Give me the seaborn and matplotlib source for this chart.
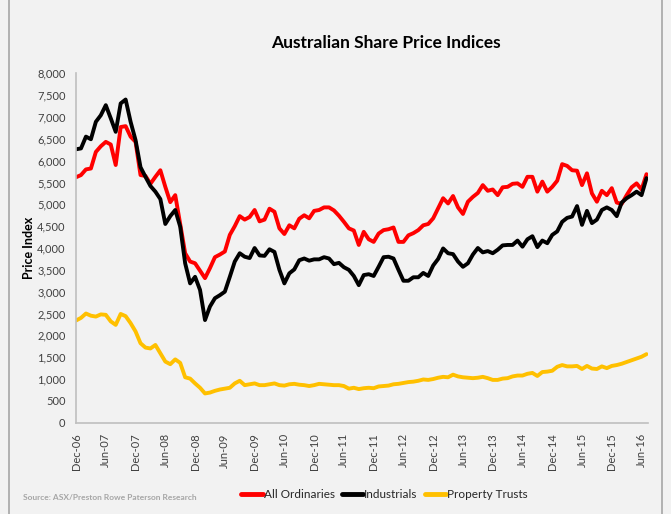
import numpy as np
import pandas as pd
import matplotlib
matplotlib.use('Agg')
import matplotlib.pyplot as plt
from matplotlib.ticker import FuncFormatter
from matplotlib.patches import Rectangle
import seaborn as sns

# monthly series, Dec-06 .. Jul-16
months = pd.date_range('2006-12-01', '2016-07-01', freq='MS')

all_ords = [5620, 5670, 5800, 5820, 6200, 6330, 6430, 6370, 5900, 6770,
            6790, 6550, 6430, 5670, 5650, 5470, 5630, 5780, 5400, 5050,
            5210, 4550, 3880, 3690, 3650, 3480, 3310, 3540, 3790, 3850,
            3920, 4300, 4500, 4730, 4650, 4710, 4870, 4610, 4650, 4900,
            4830, 4450, 4320, 4520, 4450, 4670, 4750, 4680, 4850, 4870,
            4930, 4930, 4860, 4740, 4600, 4450, 4400, 4070, 4370, 4200,
            4140, 4330, 4410, 4430, 4470, 4140, 4140, 4290, 4340, 4410,
            4520, 4550, 4680, 4910, 5140, 5020, 5190, 4930, 4780, 5060,
            5170, 5260, 5440, 5310, 5340, 5210, 5390, 5400, 5470, 5480,
            5400, 5630, 5630, 5290, 5520, 5290, 5400, 5540, 5920, 5880,
            5780, 5770, 5440, 5710, 5250, 5060, 5310, 5210, 5370, 5040,
            5010, 5210, 5390, 5480, 5340, 5690]

industrials = [6260, 6280, 6550, 6490, 6890, 7040, 7270, 6970, 6660, 7310,
               7400, 6890, 6470, 5850, 5630, 5420, 5290, 5120, 4550, 4730,
               4870, 4490, 3650, 3190, 3340, 3040, 2350, 2660, 2850, 2920,
               3000, 3340, 3690, 3880, 3800, 3770, 4000, 3830, 3820, 3970,
               3910, 3500, 3190, 3420, 3510, 3720, 3760, 3710, 3740, 3740,
               3790, 3760, 3630, 3660, 3560, 3500, 3360, 3150, 3380, 3400,
               3360, 3570, 3790, 3800, 3760, 3500, 3250, 3250, 3330, 3330,
               3430, 3360, 3600, 3750, 3990, 3880, 3860, 3690, 3570, 3650,
               3850, 4000, 3900, 3930, 3880, 3960, 4060, 4070, 4070, 4170,
               4030, 4200, 4270, 4020, 4170, 4110, 4300, 4380, 4600, 4690,
               4720, 4960, 4530, 4850, 4570, 4650, 4870, 4930, 4870, 4730,
               5040, 5140, 5210, 5290, 5210, 5600]

property_trusts = [2340, 2400, 2500, 2450, 2430, 2480, 2470, 2320, 2240, 2490,
                   2440, 2280, 2090, 1820, 1720, 1700, 1780, 1590, 1400, 1340,
                   1450, 1370, 1040, 1010, 900, 800, 670, 690, 730, 760,
                   780, 800, 900, 960, 860, 880, 900, 860, 860, 880,
                   900, 860, 850, 880, 890, 870, 860, 840, 860, 890,
                   880, 870, 860, 860, 840, 780, 800, 770, 790, 800,
                   790, 830, 840, 850, 880, 890, 910, 930, 940, 960,
                   990, 980, 1000, 1030, 1050, 1040, 1100, 1060, 1040, 1030,
                   1020, 1030, 1050, 1020, 980, 980, 1010, 1020, 1060, 1080,
                   1080, 1120, 1140, 1070, 1160, 1170, 1190, 1280, 1320, 1290,
                   1290, 1300, 1230, 1300, 1240, 1230, 1290, 1250, 1300, 1320,
                   1350, 1390, 1430, 1470, 1510, 1570]

series_names = ['All Ordinaries', 'Industrials', 'Property Trusts']
series_colors = ['#ff0000', '#000000', '#ffc000']

idx = np.arange(len(months))
df = pd.concat([
    pd.DataFrame({'m': idx, 'value': vals, 'series': name})
    for name, vals in zip(series_names, [all_ords, industrials, property_trusts])
])

sns.set_style('white')
plt.rcParams['font.family'] = ['Lato', 'DejaVu Sans']

bg = '#f2f2f2'
fig = plt.figure(figsize=(6.71, 5.14), dpi=100, facecolor=bg)
fig.patches.append(Rectangle((0.014, -0.01), 0.972, 1.02, transform=fig.transFigure,
                             fill=False, edgecolor='#a6a6a6', linewidth=1.2))
ax = fig.add_axes([0.1133, 0.1776, 0.8524, 0.6798], facecolor=bg)

sns.lineplot(data=df, x='m', y='value', hue='series', hue_order=series_names,
             palette=series_colors, linewidth=2.8, ax=ax, legend=True)

ax.set_xlim(0, 115.3)
ax.set_ylim(0, 8000)
ax.set_yticks(np.arange(0, 8001, 500))
ax.yaxis.set_major_formatter(FuncFormatter(lambda v, p: f'{int(v):,}'))
tick_pos = idx[::6]
ax.set_xticks(tick_pos)
ax.set_xticklabels([months[i].strftime('%b-%y') for i in tick_pos], rotation=90)

for s in ['top', 'right']:
    ax.spines[s].set_visible(False)
for s in ['left', 'bottom']:
    ax.spines[s].set_color('#bfbfbf')
    ax.spines[s].set_linewidth(1.2)
ax.tick_params(axis='both', colors='#bfbfbf', labelcolor='#404040',
               labelsize=8, length=4, width=1, direction='out')

ax.set_xlabel('')
ax.set_ylabel('Price Index', fontsize=9, fontweight='bold', color='black')
ax.yaxis.set_label_coords(-0.072, 0.5)
fig.text(0.575, 0.916, 'Australian Share Price Indices', ha='center', va='center',
         fontsize=12.5, fontweight='bold', color='black')
fig.text(0.035, 0.033, 'Source: ASX/Preston Rowe Paterson Research', fontsize=6,
         color='#a6a6a6', fontweight='bold', va='center')

leg = ax.legend(loc='center', bbox_to_anchor=(0.573, 0.037), bbox_transform=fig.transFigure,
                ncol=3, frameon=False, fontsize=8.5, handlelength=1.8,
                handletextpad=0.1, columnspacing=0.6)
for line in leg.get_lines():
    line.set_linewidth(3.5)

fig.savefig('out.png', dpi=100, facecolor=bg)
